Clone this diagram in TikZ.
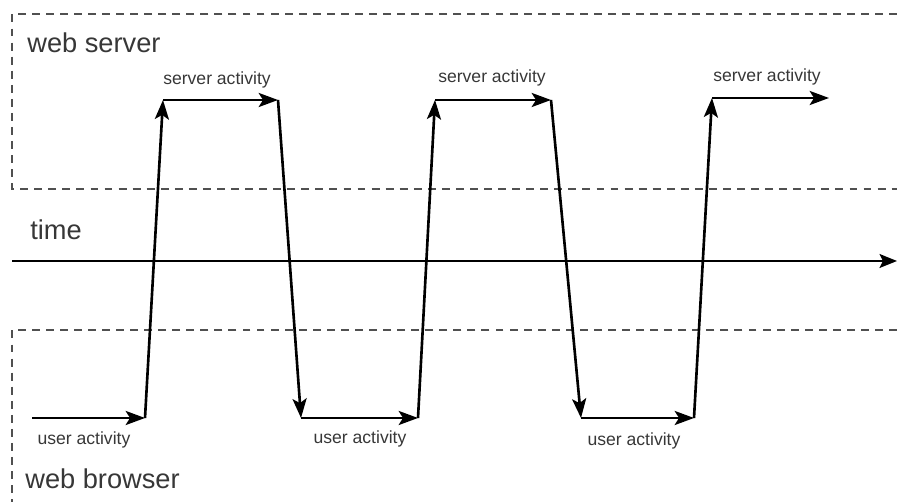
\documentclass[tikz,border=0pt]{standalone}
\usepackage{fontspec}
\setmainfont{Liberation Sans}
\usepackage{xcolor}
\usepackage{tikz}
\usetikzlibrary{positioning, calc, arrows.meta}
\definecolor{TextGray}{RGB}{55,55,55}
\definecolor{DashGray}{RGB}{80,80,80}
\tikzset{
    zonebox/.style={
        draw=DashGray, line width=0.8pt, dash pattern=on 4.5pt off 3.5pt
    },
    timeaxis/.style={
        -{Stealth[length=10pt, width=8pt, inset=2pt]}, line width=0.9pt, black
    },
    flow/.style={
        -{Stealth[length=11pt, width=8pt, inset=2.5pt]}, line width=1.5pt, black
    },
    actlabel/.style={
        font=\fontsize{10}{12}\selectfont, color=TextGray, inner sep=0pt
    },
    zonelabel/.style={
        font=\fontsize{15.5}{18}\selectfont, color=TextGray, anchor=west, inner sep=0pt
    }
}
\begin{document}
\begin{tikzpicture}[x=0.02cm, y=-0.02cm]
    \useasboundingbox (0,0) rectangle (897,502);
    % zones
    \draw[zonebox] (897,14) -- (12,14) -- (12,189) -- (897,189);
    \draw[zonebox] (897,330) -- (12,330) -- (12,502);
    \node[zonelabel] (server) at (27,43) {web server};
    \node[zonelabel] (browser) at (25,479) {web browser};
    \node[zonelabel] (time) at (30,230) {time};
    \coordinate (t0) at (12,261);
    \coordinate (t1) at (897,261);
    \draw[timeaxis] (t0) -- (t1);
    % corners of the request / response cycle
    \coordinate (u1a) at (32,418);  \coordinate (u1b) at (145,418);
    \coordinate (s1a) at (163,100); \coordinate (s1b) at (278,100);
    \coordinate (u2a) at (301,418); \coordinate (u2b) at (418,418);
    \coordinate (s2a) at (435,100); \coordinate (s2b) at (551,100);
    \coordinate (u3a) at (581,418); \coordinate (u3b) at (694,418);
    \coordinate (s3a) at (712,98);  \coordinate (s3b) at (829,98);
    \draw[flow] (u1a) -- (u1b);
    \draw[flow] (u1b) -- (s1a);
    \draw[flow] (s1a) -- (s1b);
    \draw[flow] (s1b) -- (u2a);
    \draw[flow] (u2a) -- (u2b);
    \draw[flow] (u2b) -- (s2a);
    \draw[flow] (s2a) -- (s2b);
    \draw[flow] (s2b) -- (u3a);
    \draw[flow] (u3a) -- (u3b);
    \draw[flow] (u3b) -- (s3a);
    \draw[flow] (s3a) -- (s3b);
    % labels
    \node[actlabel] (ua1) at (84,440) {user activity};
    \node[actlabel] (ua2) at (360,439) {user activity};
    \node[actlabel] (ua3) at (634,441) {user activity};
    \node[actlabel] (sa1) at (217,80) {server activity};
    \node[actlabel] (sa2) at (492,78) {server activity};
    \node[actlabel] (sa3) at (767,77) {server activity};
\end{tikzpicture}
\end{document}
